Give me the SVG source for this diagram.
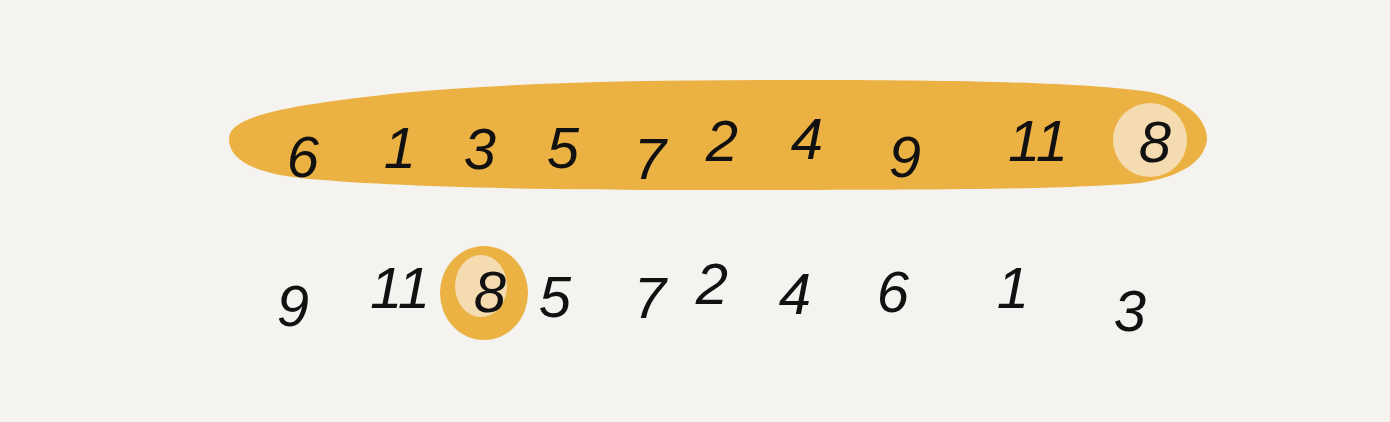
<svg xmlns="http://www.w3.org/2000/svg" width="1390" height="422" viewBox="0 0 1390 422">
<style>
.n{font-family:"Liberation Sans","DejaVu Sans",sans-serif;font-size:58px;fill:#111;text-anchor:middle;font-style:italic}
</style>
<rect width="1390" height="422" fill="#f4f3f0"/>
<g id="band">
<path d="M229,138 C230,114 300,104 400,93 C520,82 650,80 800,80 C950,80 1080,82 1150,92 C1190,100 1208,122 1207,140 C1204,160 1185,176 1140,183 C1060,190 900,190 700,190 C520,190 380,186 300,178 C250,172 228,158 229,138 Z" fill="#ecb143"/>
<circle cx="1150" cy="140" r="37" fill="#f5dcb0"/>
</g>
<g id="pivot">
<ellipse cx="484" cy="293" rx="44" ry="47" fill="#ecb143"/>
<ellipse cx="481" cy="286" rx="26" ry="31" fill="#f5dcb0"/>
</g>
<g id="top-row">
<text class="n" x="303" y="177">6</text>
<text class="n" x="400" y="168">1</text>
<text class="n" x="480" y="169">3</text>
<text class="n" x="563" y="168">5</text>
<text class="n" x="650" y="179">7</text>
<text class="n" x="722" y="161">2</text>
<text class="n" x="807" y="159">4</text>
<text class="n" x="905" y="177">9</text>
<text class="n" x="1038" y="161">11</text>
<text class="n" x="1155" y="162">8</text>
</g>
<g id="bottom-row">
<text class="n" x="293" y="326">9</text>
<text class="n" x="400" y="308">11</text>
<text class="n" x="490" y="312">8</text>
<text class="n" x="555" y="317">5</text>
<text class="n" x="650" y="318">7</text>
<text class="n" x="712" y="304">2</text>
<text class="n" x="795" y="314">4</text>
<text class="n" x="893" y="312">6</text>
<text class="n" x="1013" y="308">1</text>
<text class="n" x="1130" y="331">3</text>
</g>
</svg>
